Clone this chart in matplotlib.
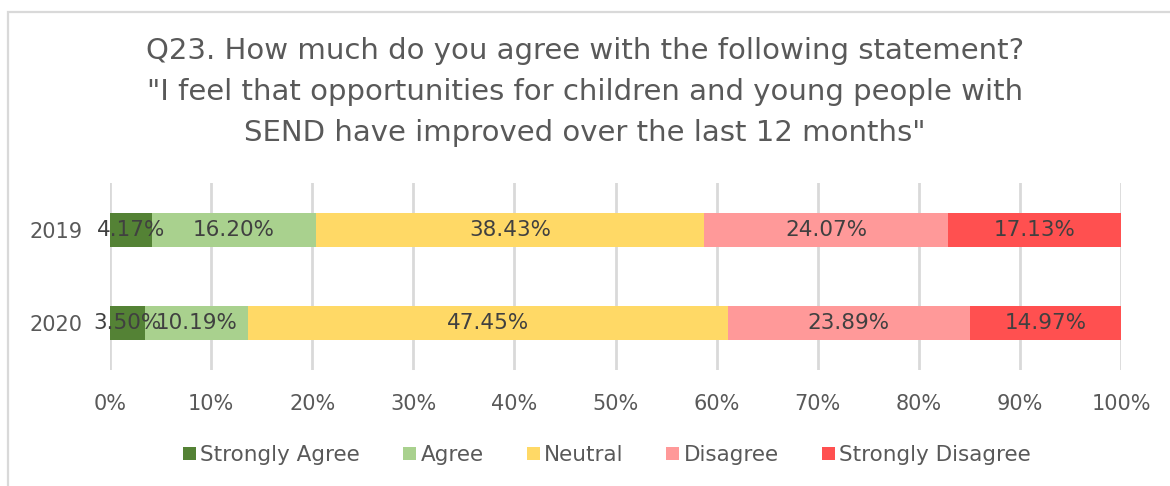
import matplotlib
matplotlib.use("Agg")
import matplotlib.pyplot as plt
from matplotlib.patches import Rectangle
import numpy as np

years = ["2020", "2019"]
categories = ["Strongly Agree", "Agree", "Neutral", "Disagree", "Strongly Disagree"]
strongly_agree = [3.50, 4.17]
agree = [10.19, 16.20]
neutral = [47.45, 38.43]
disagree = [23.89, 24.07]
strongly_disagree = [14.97, 17.13]
series = [strongly_agree, agree, neutral, disagree, strongly_disagree]
colors = ["#548235", "#A9D18E", "#FFD966", "#FF9999", "#FF5050"]
xticks = [0, 10, 20, 30, 40, 50, 60, 70, 80, 90, 100]

plt.rcParams['font.family'] = ['DejaVu Sans']

W, H = 1170, 486
fig = plt.figure(figsize=(W / 100, H / 100), dpi=100)
fig.patch.set_facecolor("white")

# chart border (left and top visible)
fig.add_artist(Rectangle((8 / W, -0.1), 1.2, (H - 12) / H + 0.1, transform=fig.transFigure,
                         fill=False, edgecolor="#d9d9d9", linewidth=1.6))

ax = fig.add_axes([110 / W, 1 - 370 / H, (1121 - 110) / W, (370 - 183) / H])
y = np.arange(len(years))
left = np.zeros(len(years))
for name, vals, c in zip(categories, series, colors):
    vals = np.array(vals)
    ax.barh(y, vals, left=left, height=0.36, color=c, label=name, zorder=3)
    for yi, l, v in zip(y, left, vals):
        ax.text(l + v / 2, yi, f"{v:.2f}%", ha="center", va="center",
                fontsize=15.5, color="#404040", zorder=4)
    left = left + vals

ax.set_xlim(0, 100)
ax.set_ylim(-0.5, 1.5)
ax.set_xticks(xticks)
ax.set_xticklabels([f"{t}%" for t in xticks], fontsize=15, color="#595959")
ax.set_yticks(y)
ax.set_yticklabels(years, fontsize=15, color="#595959")
ax.tick_params(axis="both", length=0)
ax.tick_params(axis="x", pad=17)
ax.tick_params(axis="y", pad=20)
for s in ax.spines.values():
    s.set_visible(False)
ax.grid(axis="x", color="#d9d9d9", linewidth=2, zorder=0)
ax.set_axisbelow(True)

fig.text(0.5, 1 - 92 / H,
         "Q23. How much do you agree with the following statement?\n"
         "\"I feel that opportunities for children and young people with\n"
         "SEND have improved over the last 12 months\"",
         ha="center", va="center", fontsize=21, color="#595959", linespacing=1.6)

handles, labels = ax.get_legend_handles_labels()
fig.legend(handles, labels, loc="center", bbox_to_anchor=(607 / W, 1 - 455 / H), ncol=5,
           frameon=False, fontsize=15.5, handlelength=0.6, handleheight=0.6,
           handletextpad=0.2, columnspacing=2.0, labelcolor="#595959")

fig.savefig("out.png", dpi=100, facecolor="white")
